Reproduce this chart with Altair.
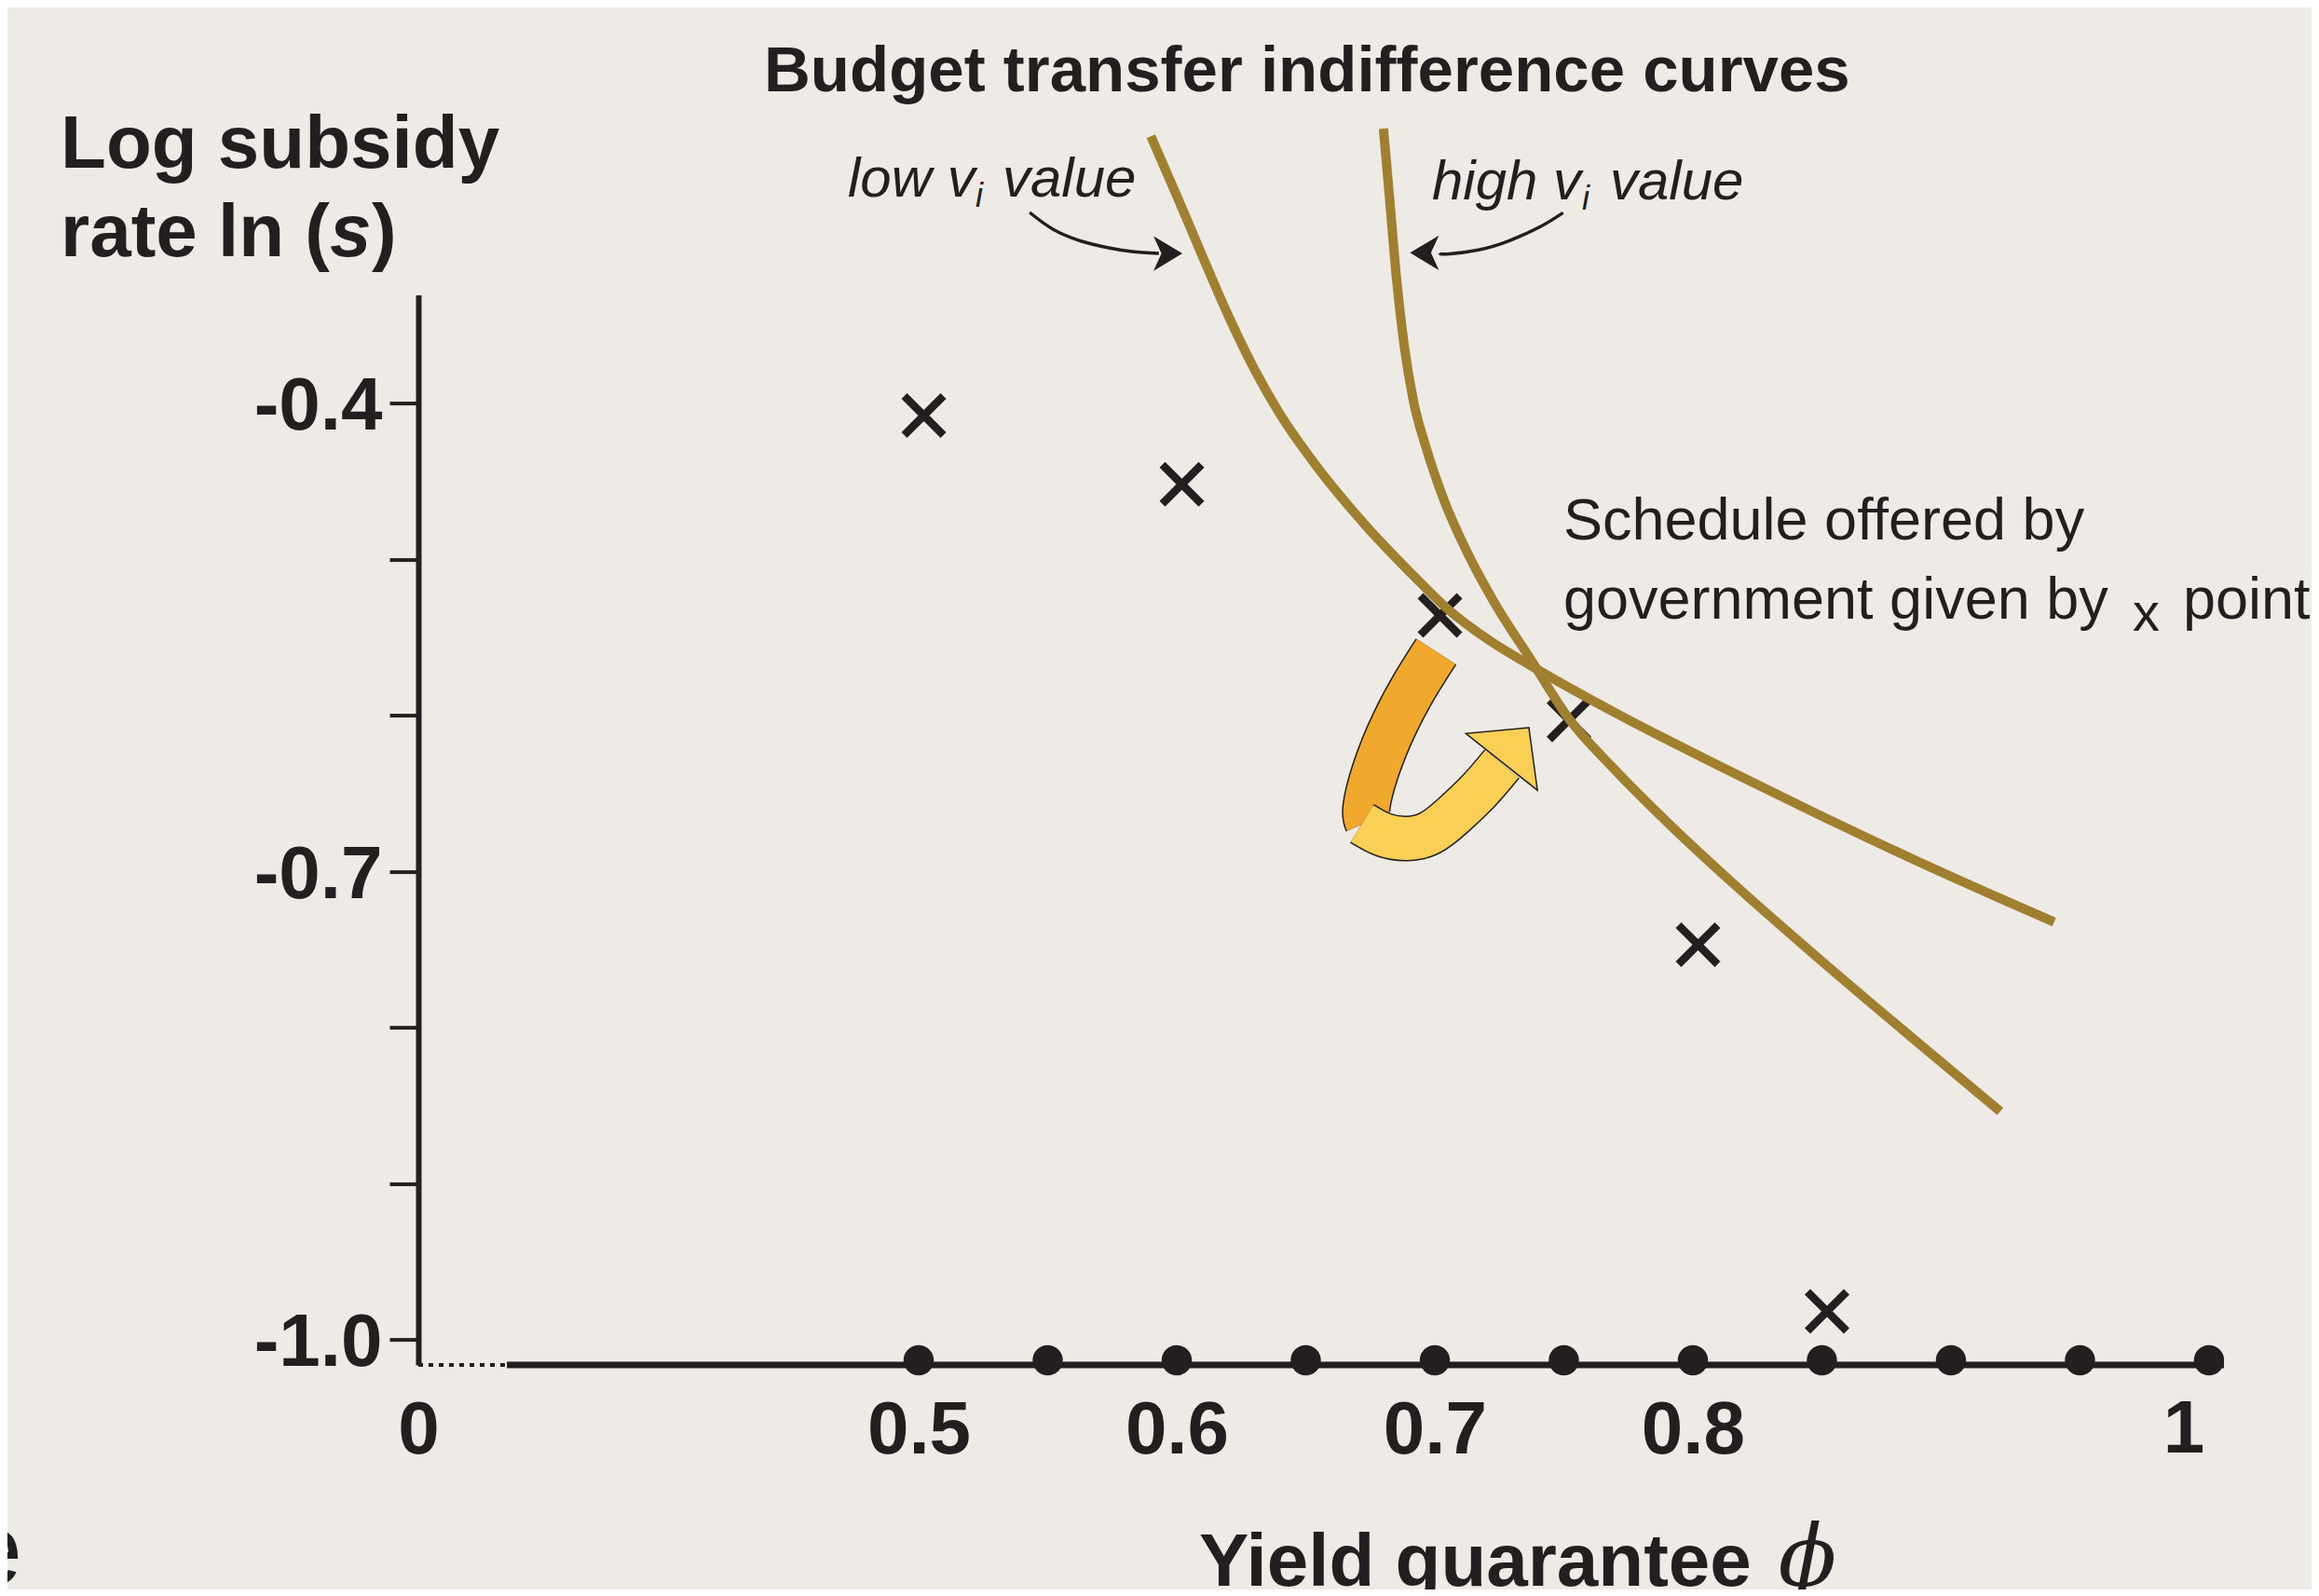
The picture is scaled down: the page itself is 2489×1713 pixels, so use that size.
import altair as alt
import pandas as pd

# ---------------- data ----------------
phi_options = [0.5, 0.55, 0.6, 0.65, 0.7, 0.75, 0.8, 0.85, 0.9, 0.95, 1.0]
axis_level = -1.0163
dot_level = -1.0133

schedule_phi = [0.502, 0.602, 0.702, 0.752, 0.802, 0.852]
schedule_ln_s = [-0.408, -0.452, -0.536, -0.603, -0.747, -0.982]

low_phi = [0.590, 0.600, 0.610, 0.620, 0.630, 0.640, 0.654, 0.673, 0.692,
           0.705, 0.722, 0.737, 0.770, 0.812, 0.848, 0.884, 0.920, 0.940]
low_ln_s = [-0.229, -0.267, -0.306, -0.344, -0.378, -0.407, -0.440, -0.478, -0.511,
            -0.532, -0.553, -0.568, -0.5985, -0.6339, -0.6631, -0.6912, -0.7180, -0.7325]

high_phi = [0.6801, 0.6827, 0.6852, 0.6881, 0.6917, 0.6968, 0.7036, 0.7126, 0.7227,
            0.7372, 0.7516, 0.7697, 0.7903, 0.8155, 0.8480, 0.8841, 0.9191]
high_ln_s = [-0.2241, -0.2730, -0.3208, -0.3626, -0.3984, -0.4294, -0.4623, -0.4957, -0.5267,
             -0.5643, -0.6014, -0.6348, -0.6689, -0.7076, -0.7548, -0.8055, -0.8539]

x_tick_values = [0, 0.5, 0.6, 0.7, 0.8, 1.0]
y_tick_values = [-0.4, -0.5, -0.6, -0.7, -0.8, -0.9, -1.0]

# annotation geometry (data units)
low_arrow_x = [0.5430, 0.5520, 0.5632, 0.5736, 0.5827, 0.5931]
low_arrow_y = [-0.2778, -0.2885, -0.2963, -0.3005, -0.3029, -0.3041]
high_arrow_x = [0.7497, 0.7409, 0.7289, 0.7169, 0.7048, 0.7018]
high_arrow_y = [-0.2780, -0.2869, -0.2959, -0.3018, -0.3045, -0.3039]

orange_x = [0.7005, 0.6928, 0.6844, 0.6771, 0.6735, 0.6741]
orange_y = [-0.5592, -0.5795, -0.6054, -0.6352, -0.6591, -0.6681]
yellow_x = [0.6718, 0.6801, 0.6892, 0.6982, 0.7072, 0.7170, 0.7260]
yellow_y = [-0.6694, -0.6766, -0.6790, -0.6754, -0.6640, -0.6485, -0.6312]

# ---------------- styling ----------------
INK = "#231F20"
GOLD = "#A17F30"
ORANGE = "#F0A82E"
YELLOW = "#FACF55"
BG = "#EEEBE6"
FONT = "Liberation Sans"

x_scale = alt.Scale(domain=[0, 0.5, 1.0058], range=[0, 537, 1938])
y_scale = alt.Scale(domain=[axis_level, -0.3307])

x_axis = alt.Axis(values=x_tick_values, title=None, domain=False, ticks=False,
                  labelExpr="datum.value == 1 ? '' : format(datum.value, '~g')",
                  tickSize=0, grid=False, labelFont=FONT, labelFontSize=80,
                  labelFontWeight="bold", labelColor=INK, labelPadding=31,
                  labelFlush=False, labelOverlap=False)
y_axis = alt.Axis(values=y_tick_values, title=None, grid=False,
                  labelExpr="datum.value == -0.4 ? '-0.4' : datum.value == -0.7 ? '-0.7' : datum.value == -1 ? '-1.0' : ''",
                  labelFont=FONT, labelFontSize=80, labelFontWeight="bold", labelColor=INK,
                  labelPadding=8, labelOffset=4, labelOverlap=False, labelFlush=False,
                  tickSize=31, tickWidth=4, tickColor=INK,
                  domainWidth=6, domainColor=INK)


def xq(field="x"):
    return alt.X(f"{field}:Q", scale=x_scale, axis=x_axis)


def yq(field="y"):
    return alt.Y(f"{field}:Q", scale=y_scale, axis=y_axis)


# ---------------- layers ----------------
sched = pd.DataFrame({"x": schedule_phi, "y": schedule_ln_s})
xmarks = alt.Chart(sched).mark_point(
    shape="M-1,-1L1,1M-1,1L1,-1", size=1764, filled=False, color=INK,
    strokeWidth=8.5, opacity=1
).encode(x=xq(), y=yq())

axis_df = pd.DataFrame({"x0": [0.0, 0.0885], "x1": [0.0885, 1.0058],
                        "y": [axis_level, axis_level], "kind": ["dotted", "solid"]})
axis_dotted = alt.Chart(axis_df[axis_df.kind == "dotted"]).mark_rule(
    color=INK, strokeWidth=4, strokeDash=[5, 6]
).encode(x=xq("x0"), x2="x1:Q", y=yq("y"))
axis_solid = alt.Chart(axis_df[axis_df.kind == "solid"]).mark_rule(
    color=INK, strokeWidth=7
).encode(x=xq("x0"), x2="x1:Q", y=yq("y"))

dots_df = pd.DataFrame({"x": phi_options, "y": [dot_level] * len(phi_options)})
dots = alt.Chart(dots_df).mark_circle(size=1050, color=INK, opacity=1).encode(
    x=xq(), y=yq())

curves_df = pd.DataFrame({
    "x": low_phi + high_phi,
    "y": low_ln_s + high_ln_s,
    "curve": ["low"] * len(low_phi) + ["high"] * len(high_phi),
})
curves = alt.Chart(curves_df).mark_line(
    color=GOLD, strokeWidth=10, interpolate="monotone", clip=False
).encode(x=xq(), y=yq(), detail="curve:N")

arrows_df = pd.DataFrame({
    "x": low_arrow_x + high_arrow_x,
    "y": low_arrow_y + high_arrow_y,
    "arrow": ["low"] * len(low_arrow_x) + ["high"] * len(high_arrow_x),
    "o": list(range(len(low_arrow_x))) + list(range(len(high_arrow_x))),
})
small_arrows = alt.Chart(arrows_df).mark_line(
    color=INK, strokeWidth=3.5, interpolate="natural"
).encode(x=xq(), y=yq(), detail="arrow:N", order="o:Q")

heads_df = pd.DataFrame({"x": [0.5966, 0.6960], "y": [-0.3041, -0.3037], "rot": [0, 180]})
small_heads = alt.Chart(heads_df).mark_point(
    shape="M1,0L-1,-1.2L-0.45,0L-1,1.2Z", size=961, filled=True, color=INK, opacity=1
).encode(x=xq(), y=yq(), angle=alt.Angle("rot:Q", scale=None))

orange_df = pd.DataFrame({"x": orange_x, "y": orange_y, "o": list(range(len(orange_x)))})
yellow_df = pd.DataFrame({"x": yellow_x, "y": yellow_y, "o": list(range(len(yellow_x)))})


def band(df, color, width, interp):
    return alt.Chart(df).mark_line(
        color=color, strokeWidth=width, interpolate=interp, strokeCap="butt"
    ).encode(x=xq(), y=yq(), order="o:Q")


orange_outline = band(orange_df, INK, 52, "natural")
orange_band = band(orange_df, ORANGE, 49, "natural")
yellow_outline = band(yellow_df, INK, 49, "natural")
yellow_band = band(yellow_df, YELLOW, 46, "natural")

big_head_df = pd.DataFrame({"x": [0.7295], "y": [-0.6224]})
big_head = alt.Chart(big_head_df).mark_point(
    shape="M0.633,0L-0.327,-1L-0.327,1Z", size=9604, filled=True, color=YELLOW,
    stroke=INK, strokeWidth=1.5, angle=308.4, opacity=1
).encode(x=xq(), y=yq())


def txt(rows, **kw):
    base = dict(font=FONT, color=INK, baseline="alphabetic", align="left")
    base.update(kw)
    df = pd.DataFrame(rows, columns=["t", "x", "y"])
    return alt.Chart(df).mark_text(**base).encode(x=xq(), y=yq(), text="t:N")


title = txt([("Budget transfer indifference curves", 0.6505, -0.2002)],
            fontSize=69, fontWeight="bold", align="center")
ylab1 = txt([("Log subsidy", -0.3575, -0.2491), ("rate ln (", -0.3575, -0.3059)],
            fontSize=80, fontWeight="bold")
ylab_s = txt([("s", -0.3575, -0.3059)], fontSize=80, fontWeight="bold",
             fontStyle="italic", dx=289)
ylab_close = txt([(")", -0.3575, -0.3059)], fontSize=80, fontWeight="bold", dx=334)

low_lab = txt([("low v", 0.4292, -0.2676)], fontSize=60, fontStyle="italic")
low_sub = txt([("i", 0.4292, -0.2676)], fontSize=36, fontStyle="italic", dx=137, dy=11)
low_val = txt([("value", 0.4292, -0.2676)], fontSize=60, fontStyle="italic", dx=166)
high_lab = txt([("high v", 0.6989, -0.2694)], fontSize=60, fontStyle="italic")
high_sub = txt([("i", 0.6989, -0.2694)], fontSize=36, fontStyle="italic", dx=161, dy=11)
high_val = txt([("value", 0.6989, -0.2694)], fontSize=60, fontStyle="italic", dx=191)

sched1 = txt([("Schedule offered by", 0.7498, -0.4873),
              ("government given by", 0.7498, -0.5381)], fontSize=63)
sched_x = txt([("x", 0.7498, -0.5381)], fontSize=58, dx=611, dy=13)
sched_pts = txt([("points", 0.7498, -0.5381)], fontSize=63, dx=665)

one_label = txt([("1", 1.0, -1.0724)], fontSize=80, fontWeight="bold",
                align="center", dx=-27)
xlab = txt([("Yield guarantee", 0.6087, -1.1578)], fontSize=80, fontWeight="bold")
xphi = txt([("ϕ", 0.8444, -1.1578)], fontSize=92, font="DejaVu Serif",
           fontStyle="italic", align="center")
stray = txt([("e", -0.3957, -1.1566)], fontSize=110, align="right")

chart = alt.layer(
    xmarks, axis_dotted, axis_solid, dots, curves, small_arrows, small_heads,
    orange_outline, orange_band, yellow_outline, yellow_band, big_head,
    title, ylab1, ylab_s, ylab_close, low_lab, low_sub, low_val,
    high_lab, high_sub, high_val, sched1, sched_x, sched_pts,
    one_label, xlab, xphi, stray,
).properties(
    width=1938, height=1148.4,
    autosize=alt.AutoSizeParams(type="none"),
    padding={"left": 441, "top": 308.6, "right": 94, "bottom": 241},
    background=BG,
).configure_view(stroke=None)

chart.save("out.html", embed_options={"renderer": "svg", "actions": False})
